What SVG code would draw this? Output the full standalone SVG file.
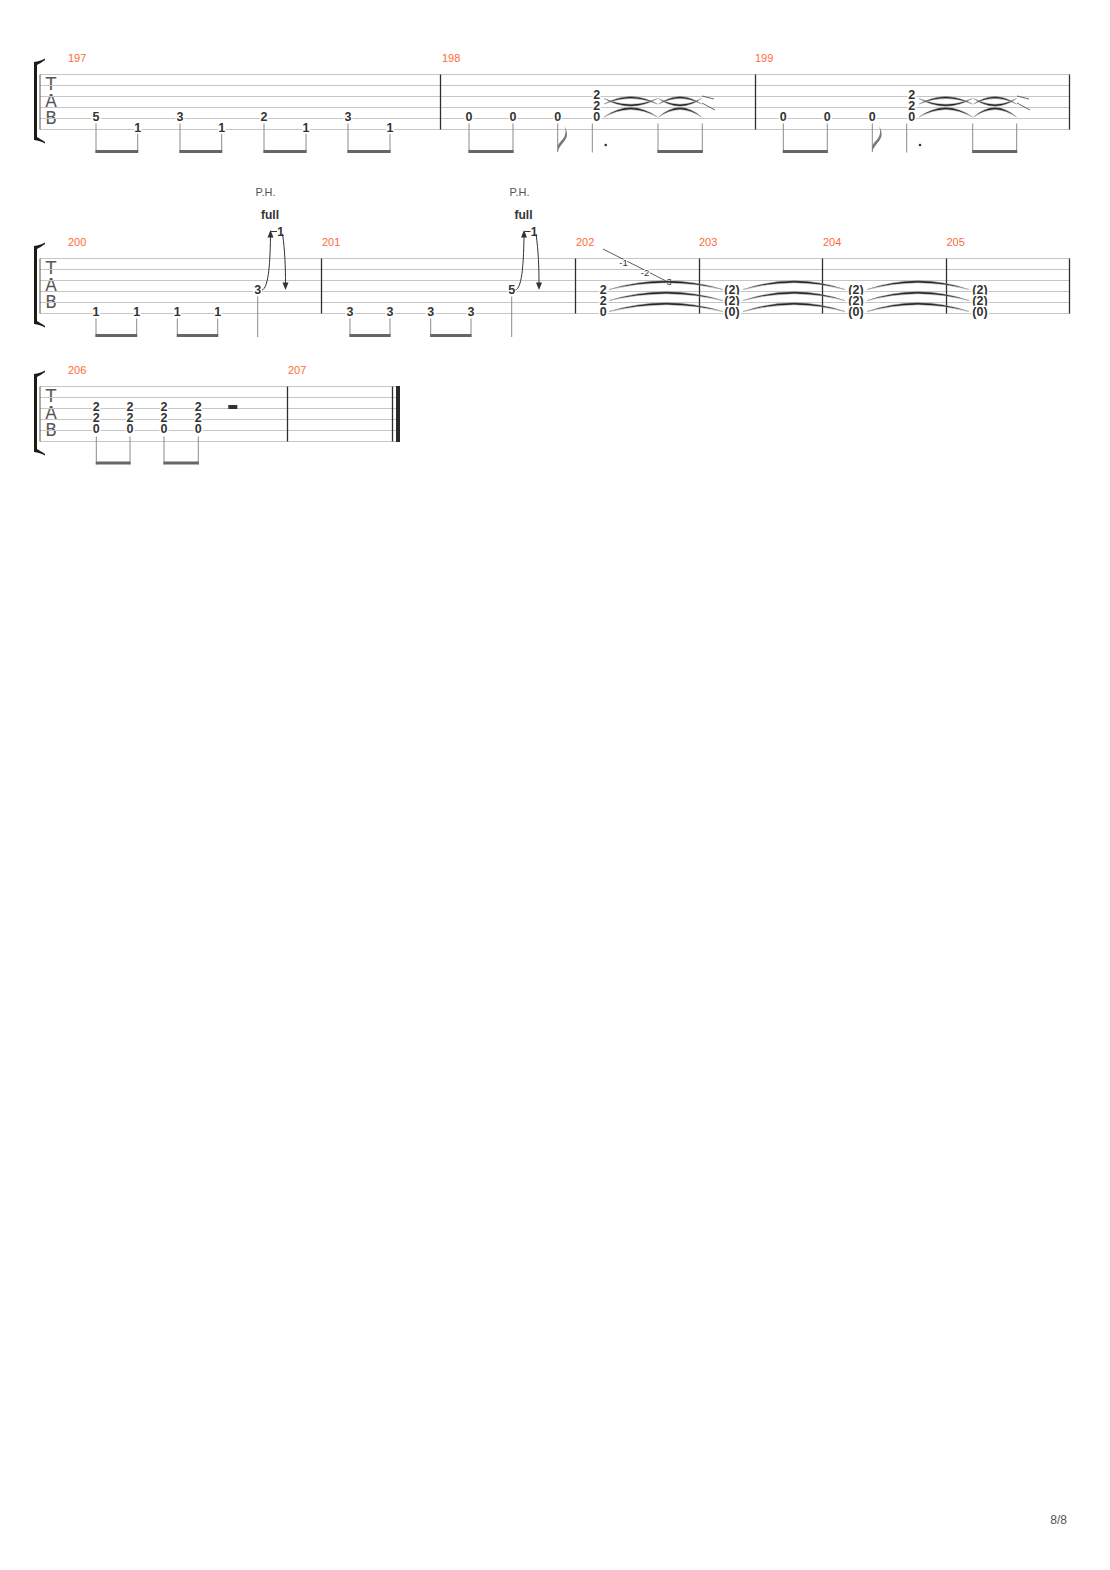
<svg xmlns="http://www.w3.org/2000/svg" width="1110" height="1570" viewBox="0 0 1110 1570">
<style>
.sl{stroke:#c6c6c6;stroke-width:1}
.bar{stroke:#2e2e2e;stroke-width:1.3}
.start{stroke:#555;stroke-width:1}
.tab{font-family:'DejaVu Sans','Liberation Sans',sans-serif;font-weight:normal;font-size:17px;fill:#555;text-anchor:middle}
.mn{font-family:'Liberation Sans',Arial,sans-serif;font-size:11px;fill:#ff6a3a}
.fn{font-family:'Liberation Sans',Arial,sans-serif;font-weight:bold;font-size:12.5px;fill:#333;text-anchor:middle;paint-order:stroke;stroke:#fff;stroke-width:3px;stroke-linejoin:round}
.sm{font-family:'Liberation Sans',Arial,sans-serif;font-size:9.5px;fill:#333;text-anchor:middle;paint-order:stroke;stroke:#fff;stroke-width:2.5px;stroke-linejoin:round}
.ph{font-family:'Liberation Sans',Arial,sans-serif;font-size:11px;fill:#555;text-anchor:middle}
.full{font-family:'Liberation Sans',Arial,sans-serif;font-weight:bold;font-size:12px;fill:#333;text-anchor:middle}
.stem{stroke:#8a8a8a;stroke-width:1}
.beam{fill:#666}
.flag{fill:#777}
.br{fill:#1c1c16}
.tie{fill:#222;stroke:#999;stroke-width:0.5}
.tl{stroke:#555;stroke-width:0.9;fill:none}
.bend{stroke:#333;stroke-width:1;fill:none}
.ah{fill:#333}
.pg{font-family:'Liberation Sans',Arial,sans-serif;font-size:12px;fill:#555;text-anchor:end}
</style>
<defs>
<g id="bracket">
<rect class="br" x="34" y="-12.5" width="3" height="78"/>
<path class="br" d="M34,-12.5 C38,-13 42,-14 45,-16 L45,-14.5 C42,-12.5 39,-10.5 37,-9.5 Z"/>
<path class="br" d="M34,65.5 C38,66 42,67 45,69 L45,67.5 C42,65.5 39,63.5 37,62.5 Z"/>
</g>
<g id="tablbl">
<text class="tab" x="51" y="15.6">T</text>
<text class="tab" x="51" y="32.4">A</text>
<text class="tab" x="51" y="49">B</text>
</g>
<path id="flag" class="flag" d="M0,28.5 C0.8,21 9.8,17 9.3,10 C9.1,6 7.3,3 6.3,1.5 C8.8,6 8.3,12 4.3,16 C2.3,18 0.8,20 0,22 Z"/>
</defs>
<rect width="1110" height="1570" fill="#fff"/>

<g id="system1">
<use href="#bracket" y="74.5"/>
<use href="#tablbl" y="74.5"/>
<g>
<line class="sl" x1="40" y1="74.5" x2="1070" y2="74.5"/>
<line class="sl" x1="40" y1="85.5" x2="1070" y2="85.5"/>
<line class="sl" x1="40" y1="96.5" x2="1070" y2="96.5"/>
<line class="sl" x1="40" y1="107.5" x2="1070" y2="107.5"/>
<line class="sl" x1="40" y1="118.5" x2="1070" y2="118.5"/>
<line class="sl" x1="40" y1="129.5" x2="1070" y2="129.5"/>
</g>
<line class="start" x1="40" y1="74.5" x2="40" y2="129.5"/>
<line class="bar" x1="440.5" y1="74.5" x2="440.5" y2="129.5"/>
<line class="bar" x1="755.5" y1="74.5" x2="755.5" y2="129.5"/>
<line class="bar" x1="1069.5" y1="74.5" x2="1069.5" y2="129.5"/>
</g>

<g id="m197">
<text class="mn" x="68" y="62">197</text>
<line class="stem" x1="96" y1="123.5" x2="96" y2="153"/>
<line class="stem" x1="137.7" y1="133.5" x2="137.7" y2="153"/>
<rect class="beam" x="95.5" y="150" width="42.7" height="3"/>
<line class="stem" x1="180" y1="123.5" x2="180" y2="153"/>
<line class="stem" x1="221.7" y1="133.5" x2="221.7" y2="153"/>
<rect class="beam" x="179.5" y="150" width="42.7" height="3"/>
<line class="stem" x1="264" y1="123.5" x2="264" y2="153"/>
<line class="stem" x1="306" y1="133.5" x2="306" y2="153"/>
<rect class="beam" x="263.5" y="150" width="43" height="3"/>
<line class="stem" x1="348" y1="123.5" x2="348" y2="153"/>
<line class="stem" x1="390" y1="133.5" x2="390" y2="153"/>
<rect class="beam" x="347.5" y="150" width="43" height="3"/>
<text class="fn" x="96" y="120.5">5</text>
<text class="fn" x="137.7" y="131.5">1</text>
<text class="fn" x="180" y="120.5">3</text>
<text class="fn" x="221.7" y="131.5">1</text>
<text class="fn" x="264" y="120.5">2</text>
<text class="fn" x="306" y="131.5">1</text>
<text class="fn" x="348" y="120.5">3</text>
<text class="fn" x="390" y="131.5">1</text>
</g>

<g id="m198">
<text class="mn" x="442" y="62">198</text>
<line class="stem" x1="469" y1="123.5" x2="469" y2="153"/>
<line class="stem" x1="513" y1="123.5" x2="513" y2="153"/>
<rect class="beam" x="468.5" y="150" width="45" height="3"/>
<line class="stem" x1="557.7" y1="123.5" x2="557.7" y2="152"/>
<use href="#flag" x="557.7" y="124"/>
<line class="stem" x1="592.3" y1="123.5" x2="592.3" y2="152.5"/>
<circle cx="605.7" cy="145" r="1.3" fill="#333"/>
<line class="stem" x1="658" y1="123.5" x2="658" y2="153"/>
<line class="stem" x1="702.3" y1="123.5" x2="702.3" y2="153"/>
<rect class="beam" x="657.5" y="150" width="45.3" height="3"/>
<text class="fn" x="469" y="120.5">0</text>
<text class="fn" x="513" y="120.5">0</text>
<text class="fn" x="557.7" y="120.5">0</text>
<text class="fn" x="596.7" y="98.5">2</text>
<text class="fn" x="596.7" y="109.5">2</text>
<text class="fn" x="596.7" y="120.5">0</text>
</g>

<g id="m199">
<text class="mn" x="755" y="62">199</text>
<line class="stem" x1="783.3" y1="123.5" x2="783.3" y2="153"/>
<line class="stem" x1="827.3" y1="123.5" x2="827.3" y2="153"/>
<rect class="beam" x="782.8" y="150" width="45" height="3"/>
<line class="stem" x1="872.3" y1="123.5" x2="872.3" y2="152"/>
<use href="#flag" x="872.3" y="124"/>
<line class="stem" x1="906.7" y1="123.5" x2="906.7" y2="152.5"/>
<circle cx="920" cy="145" r="1.3" fill="#333"/>
<line class="stem" x1="972.7" y1="123.5" x2="972.7" y2="153"/>
<line class="stem" x1="1016.7" y1="123.5" x2="1016.7" y2="153"/>
<rect class="beam" x="972.2" y="150" width="45" height="3"/>
<text class="fn" x="783.3" y="120.5">0</text>
<text class="fn" x="827.3" y="120.5">0</text>
<text class="fn" x="872.3" y="120.5">0</text>
<text class="fn" x="911.7" y="98.5">2</text>
<text class="fn" x="911.7" y="109.5">2</text>
<text class="fn" x="911.7" y="120.5">0</text>
</g>

<g id="system2">
<use href="#bracket" y="258.5"/>
<use href="#tablbl" y="258.5"/>
<g>
<line class="sl" x1="40" y1="258.5" x2="1070" y2="258.5"/>
<line class="sl" x1="40" y1="269.5" x2="1070" y2="269.5"/>
<line class="sl" x1="40" y1="280.5" x2="1070" y2="280.5"/>
<line class="sl" x1="40" y1="291.5" x2="1070" y2="291.5"/>
<line class="sl" x1="40" y1="302.5" x2="1070" y2="302.5"/>
<line class="sl" x1="40" y1="313.5" x2="1070" y2="313.5"/>
</g>
<line class="start" x1="40" y1="258.5" x2="40" y2="313.5"/>
<line class="bar" x1="321.5" y1="258.5" x2="321.5" y2="313.5"/>
<line class="bar" x1="575.5" y1="258.5" x2="575.5" y2="313.5"/>
<line class="bar" x1="699.5" y1="258.5" x2="699.5" y2="313.5"/>
<line class="bar" x1="822.5" y1="258.5" x2="822.5" y2="313.5"/>
<line class="bar" x1="946.5" y1="258.5" x2="946.5" y2="313.5"/>
<line class="bar" x1="1069.5" y1="258.5" x2="1069.5" y2="313.5"/>
</g>

<g id="m200">
<text class="mn" x="68" y="246">200</text>
<text class="ph" x="265.5" y="196">P.H.</text>
<text class="full" x="270" y="218.5">full</text>
<line class="stem" x1="96" y1="318.5" x2="96" y2="337"/>
<line class="stem" x1="136.7" y1="318.5" x2="136.7" y2="337"/>
<rect class="beam" x="95.5" y="334" width="41.7" height="3"/>
<line class="stem" x1="177.3" y1="318.5" x2="177.3" y2="337"/>
<line class="stem" x1="217.7" y1="318.5" x2="217.7" y2="337"/>
<rect class="beam" x="176.8" y="334" width="41.4" height="3"/>
<line class="stem" x1="257.7" y1="296.5" x2="257.7" y2="337"/>
<text class="fn" x="96" y="315.5">1</text>
<text class="fn" x="136.7" y="315.5">1</text>
<text class="fn" x="177.3" y="315.5">1</text>
<text class="fn" x="217.7" y="315.5">1</text>
<text class="fn" x="257.7" y="293.5">3</text>
</g>

<g id="m201">
<text class="mn" x="322" y="246">201</text>
<text class="ph" x="519.5" y="196">P.H.</text>
<text class="full" x="523.5" y="218.5">full</text>
<line class="stem" x1="350" y1="318.5" x2="350" y2="337"/>
<line class="stem" x1="390" y1="318.5" x2="390" y2="337"/>
<rect class="beam" x="349.5" y="334" width="41" height="3"/>
<line class="stem" x1="430.7" y1="318.5" x2="430.7" y2="337"/>
<line class="stem" x1="471" y1="318.5" x2="471" y2="337"/>
<rect class="beam" x="430.2" y="334" width="41.3" height="3"/>
<line class="stem" x1="511.7" y1="296.5" x2="511.7" y2="337"/>
<text class="fn" x="350" y="315.5">3</text>
<text class="fn" x="390" y="315.5">3</text>
<text class="fn" x="430.7" y="315.5">3</text>
<text class="fn" x="471" y="315.5">3</text>
<text class="fn" x="511.7" y="293.5">5</text>
</g>

<g id="m202">
<text class="mn" x="576" y="246">202</text>
<line stroke="#333" stroke-width="0.8" x1="603" y1="249" x2="670" y2="283"/>
<text class="sm" x="623.5" y="266">-1</text>
<text class="sm" x="645" y="275.5">-2</text>
<text class="sm" x="667.5" y="285">-3</text>
<text class="fn" x="603.3" y="293.5">2</text>
<text class="fn" x="603.3" y="304.5">2</text>
<text class="fn" x="603.3" y="315.5">0</text>
</g>

<g id="m203">
<text class="mn" x="699" y="246">203</text>
<text class="fn" x="732" y="293.5">(2)</text>
<text class="fn" x="732" y="304.5">(2)</text>
<text class="fn" x="732" y="315.5">(0)</text>
</g>

<g id="m204">
<text class="mn" x="823" y="246">204</text>
<text class="fn" x="856" y="293.5">(2)</text>
<text class="fn" x="856" y="304.5">(2)</text>
<text class="fn" x="856" y="315.5">(0)</text>
</g>

<g id="m205">
<text class="mn" x="946.5" y="246">205</text>
<text class="fn" x="980" y="293.5">(2)</text>
<text class="fn" x="980" y="304.5">(2)</text>
<text class="fn" x="980" y="315.5">(0)</text>
</g>

<g id="system3">
<use href="#bracket" y="386.5"/>
<use href="#tablbl" y="386.5"/>
<g>
<line class="sl" x1="40" y1="386.5" x2="400" y2="386.5"/>
<line class="sl" x1="40" y1="397.5" x2="400" y2="397.5"/>
<line class="sl" x1="40" y1="408.5" x2="400" y2="408.5"/>
<line class="sl" x1="40" y1="419.5" x2="400" y2="419.5"/>
<line class="sl" x1="40" y1="430.5" x2="400" y2="430.5"/>
<line class="sl" x1="40" y1="441.5" x2="400" y2="441.5"/>
</g>
<line class="start" x1="40" y1="386.5" x2="40" y2="441.5"/>
<line class="bar" x1="287.5" y1="386.5" x2="287.5" y2="441.5"/>
<line class="bar" x1="392.5" y1="386.5" x2="392.5" y2="441.5"/>
<rect x="396" y="386" width="4" height="56" fill="#2a2a2a"/>
</g>

<g id="m206">
<text class="mn" x="68" y="374">206</text>
<line class="stem" x1="96.3" y1="436.5" x2="96.3" y2="464.5"/>
<line class="stem" x1="130" y1="436.5" x2="130" y2="464.5"/>
<rect class="beam" x="95.8" y="461.5" width="34.7" height="3"/>
<line class="stem" x1="164" y1="436.5" x2="164" y2="464.5"/>
<line class="stem" x1="198.3" y1="436.5" x2="198.3" y2="464.5"/>
<rect class="beam" x="163.5" y="461.5" width="35.3" height="3"/>
<text class="fn" x="96.3" y="410.5">2</text>
<text class="fn" x="96.3" y="421.5">2</text>
<text class="fn" x="96.3" y="432.5">0</text>
<text class="fn" x="130" y="410.5">2</text>
<text class="fn" x="130" y="421.5">2</text>
<text class="fn" x="130" y="432.5">0</text>
<text class="fn" x="164" y="410.5">2</text>
<text class="fn" x="164" y="421.5">2</text>
<text class="fn" x="164" y="432.5">0</text>
<text class="fn" x="198.3" y="410.5">2</text>
<text class="fn" x="198.3" y="421.5">2</text>
<text class="fn" x="198.3" y="432.5">0</text>
<rect x="228.3" y="405" width="9" height="4" fill="#333"/>
</g>

<g id="m207">
<text class="mn" x="288" y="374">207</text>
</g>

<g id="connectors">
<g id="ties198">
<path class="tie" d="M604,98.5 Q630.75,114 657.5,98.5 Q630.75,110 604,98.5 Z"/>
<path class="tie" d="M604,104 Q630.75,89 657.5,104 Q630.75,93 604,104 Z"/>
<path class="tie" d="M604,117 Q630.75,98 657.5,117 Q630.75,102 604,117 Z"/>
<path class="tie" d="M658.5,98.5 Q680,114 701.5,98.5 Q680,110 658.5,98.5 Z"/>
<path class="tie" d="M658.5,104 Q680,89 701.5,104 Q680,93 658.5,104 Z"/>
<path class="tie" d="M658.5,117 Q680,98 701.5,117 Q680,102 658.5,117 Z"/>
<line class="tl" x1="702" y1="96" x2="714" y2="99"/>
<line class="tl" x1="702" y1="103" x2="715" y2="110"/>
</g>
<g id="ties199">
<path class="tie" d="M919,98.5 Q945.75,114 972.5,98.5 Q945.75,110 919,98.5 Z"/>
<path class="tie" d="M919,104 Q945.75,89 972.5,104 Q945.75,93 919,104 Z"/>
<path class="tie" d="M919,117 Q945.75,98 972.5,117 Q945.75,102 919,117 Z"/>
<path class="tie" d="M973.5,98.5 Q995,114 1016.5,98.5 Q995,110 973.5,98.5 Z"/>
<path class="tie" d="M973.5,104 Q995,89 1016.5,104 Q995,93 973.5,104 Z"/>
<path class="tie" d="M973.5,117 Q995,98 1016.5,117 Q995,102 973.5,117 Z"/>
<line class="tl" x1="1017" y1="96" x2="1029" y2="99"/>
<line class="tl" x1="1017" y1="103" x2="1030" y2="110"/>
</g>
<g id="bend200">
<path class="bend" d="M262,290 C268,288 270,268 270.5,237"/>
<polygon class="ah" points="270.5,230 267.5,237.5 273.5,237.5"/>
<line class="bend" x1="271" y1="231.5" x2="277" y2="231.5"/>
<text class="full" x="280.5" y="236">1</text>
<path class="bend" d="M282.5,234 C285,250 285.5,270 285.5,283"/>
<polygon class="ah" points="285.5,290 282.5,282.5 288.5,282.5"/>
</g>
<g id="bend201">
<path class="bend" d="M515.5,290 C521.5,288 523.5,268 524,237"/>
<polygon class="ah" points="524,230 521,237.5 527,237.5"/>
<line class="bend" x1="524.5" y1="231.5" x2="530.5" y2="231.5"/>
<text class="full" x="534" y="236">1</text>
<path class="bend" d="M536,234 C538.5,250 539,270 539,283"/>
<polygon class="ah" points="539,290 536,282.5 542,282.5"/>
</g>
<g id="ties202_205">
<path class="tie" d="M609,289.5 Q666,272 723,289.5 Q666,276 609,289.5 Z"/>
<path class="tie" d="M609,300.5 Q666,283 723,300.5 Q666,287 609,300.5 Z"/>
<path class="tie" d="M609,311.5 Q666,294 723,311.5 Q666,298 609,311.5 Z"/>
<path class="tie" d="M743,289.5 Q794,272 845,289.5 Q794,276 743,289.5 Z"/>
<path class="tie" d="M743,300.5 Q794,283 845,300.5 Q794,287 743,300.5 Z"/>
<path class="tie" d="M743,311.5 Q794,294 845,311.5 Q794,298 743,311.5 Z"/>
<path class="tie" d="M867,289.5 Q918,272 969,289.5 Q918,276 867,289.5 Z"/>
<path class="tie" d="M867,300.5 Q918,283 969,300.5 Q918,287 867,300.5 Z"/>
<path class="tie" d="M867,311.5 Q918,294 969,311.5 Q918,298 867,311.5 Z"/>
</g>
</g>

<text class="pg" x="1067" y="1524">8/8</text>
</svg>
